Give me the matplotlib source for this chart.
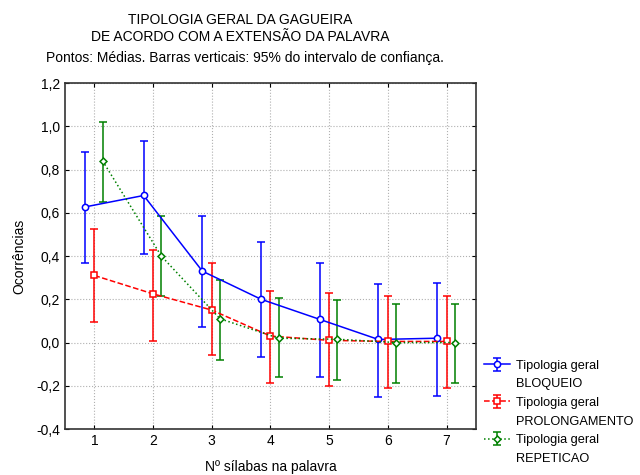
import matplotlib.pyplot as plt
from matplotlib.lines import Line2D
import numpy as np

plt.rcParams['font.family'] = ['Liberation Sans', 'DejaVu Sans']

silabas = [1, 2, 3, 4, 5, 6, 7]

bloq_media = [0.627, 0.68, 0.33, 0.20, 0.107, 0.014, 0.02]
bloq_sup = [0.88, 0.93, 0.585, 0.465, 0.37, 0.27, 0.275]
bloq_inf = [0.37, 0.41, 0.07, -0.065, -0.16, -0.25, -0.245]

prol_media = [0.31, 0.225, 0.15, 0.03, 0.01, 0.005, 0.005]
prol_sup = [0.525, 0.43, 0.37, 0.24, 0.23, 0.215, 0.215]
prol_inf = [0.095, 0.005, -0.06, -0.185, -0.2, -0.21, -0.21]

rep_media = [0.84, 0.40, 0.11, 0.02, 0.015, 0.0, 0.0]
rep_sup = [1.02, 0.585, 0.29, 0.205, 0.195, 0.18, 0.18]
rep_inf = [0.65, 0.215, -0.08, -0.16, -0.175, -0.185, -0.185]

series = [
    ("BLOQUEIO", bloq_media, bloq_sup, bloq_inf, -0.16, "#0000ff", "-", "o", 4.5),
    ("PROLONGAMENTO", prol_media, prol_sup, prol_inf, 0.0, "#ff0000", "--", "s", 4.5),
    ("REPETICAO", rep_media, rep_sup, rep_inf, 0.14, "#008000", ":", "D", 3.5),
]

fig = plt.figure(figsize=(6.4, 4.75), dpi=100)
ax = fig.add_axes([0.1016, 0.0968, 0.642, 0.7284])

x = np.array(silabas, dtype=float)
handles, labels = [], []
for nome, media, sup, inf, desl, cor, estilo, marca, tam in series:
    media = np.array(media)
    erro = [media - np.array(inf), np.array(sup) - media]
    h = ax.errorbar(x + desl, media, yerr=erro, color=cor, linestyle=estilo, linewidth=1.1,
                    marker=marca, markersize=tam, markerfacecolor="white", markeredgecolor=cor,
                    markeredgewidth=1.1, capsize=2.8, elinewidth=1.1, capthick=1.1)
    # handle on the first line, second line as a blank entry
    handles += [h, Line2D([], [], linestyle="none")]
    labels += ["Tipologia geral", nome]

ax.set_xlim(0.5, 7.5)
ax.set_ylim(-0.4, 1.2)
ax.set_xticks(silabas)
yt = np.arange(-0.4, 1.21, 0.2)
ax.set_yticks(yt)
ax.set_yticklabels([f"{v:.1f}".replace(".", ",").replace("-0,0", "0,0") for v in yt])
ax.tick_params(direction="in", top=True, right=True, labelsize=10, length=3)
ax.grid(True, linestyle=":", color="#b0b0b0", linewidth=0.8)
for s in ax.spines.values():
    s.set_color("#333333")
    s.set_linewidth(1.2)

ax.set_xlabel("Nº sílabas na palavra", fontsize=10, labelpad=9)
ax.set_ylabel("Ocorrências", fontsize=10, labelpad=7)

fig.text(0.375, 0.94, "TIPOLOGIA GERAL DA GAGUEIRA\nDE ACORDO COM A EXTENSÃO DA PALAVRA",
         ha="center", va="center", fontsize=10, linespacing=1.3)
fig.text(0.383, 0.878, "Pontos: Médias. Barras verticais: 95% do intervalo de confiança.",
         ha="center", va="center", fontsize=10)

ax.legend(handles, labels, loc="upper left", bbox_to_anchor=(0.995, 0.23), frameon=False,
          fontsize=9.2, handlelength=2.0, handletextpad=0.5, labelspacing=0.52,
          borderaxespad=0.4)

fig.savefig("out.png", dpi=100)
